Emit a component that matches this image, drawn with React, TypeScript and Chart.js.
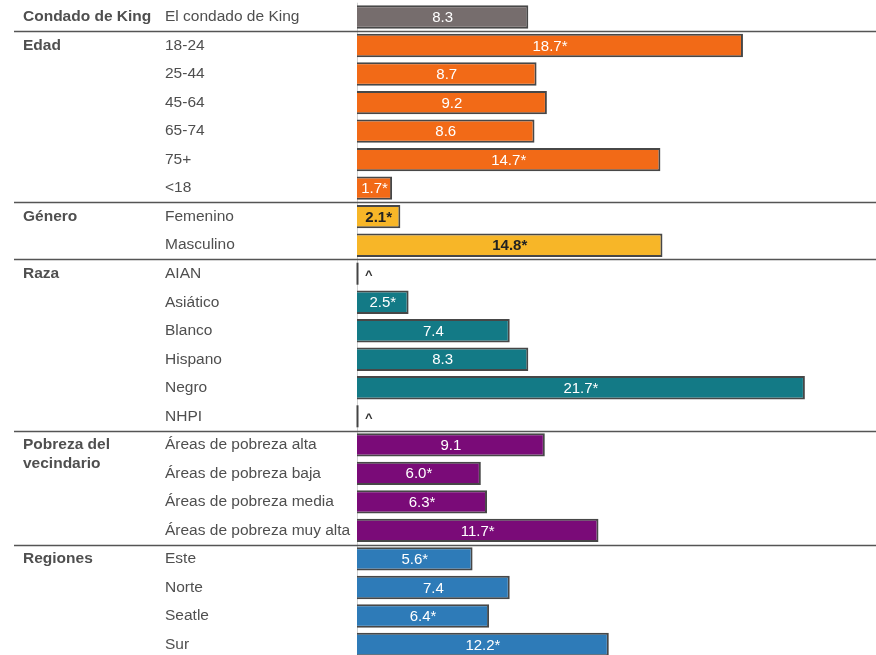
import React, { useEffect, useRef } from "react";
import { Chart, registerables } from "chart.js";

Chart.register(...registerables);

const groupNames = ["Condado de King", "Edad", "Género", "Raza", "Pobreza del\nvecindario", "Regiones"];
const groupColors = ["#766d6d", "#f26a17", "#f7b628", "#137a86", "#7a0b78", "#2e7bb8"];
const categories = [
  "El condado de King",
  "18-24", "25-44", "45-64", "65-74", "75+", "<18",
  "Femenino", "Masculino",
  "AIAN", "Asiático", "Blanco", "Hispano", "Negro", "NHPI",
  "Áreas de pobreza alta", "Áreas de pobreza baja", "Áreas de pobreza media", "Áreas de pobreza muy alta",
  "Este", "Norte", "Seatle", "Sur",
];
const groupOf = [0, 1, 1, 1, 1, 1, 1, 2, 2, 3, 3, 3, 3, 3, 3, 4, 4, 4, 4, 5, 5, 5, 5];
const values: (number | null)[] = [
  8.3,
  18.7, 8.7, 9.2, 8.6, 14.7, 1.7,
  2.1, 14.8,
  null, 2.5, 7.4, 8.3, 21.7, null,
  9.1, 6.0, 6.3, 11.7,
  5.6, 7.4, 6.4, 12.2,
];
const significant = [
  false,
  true, false, false, false, true, true,
  true, true,
  false, true, false, false, true, false,
  false, true, true, true,
  true, false, true, true,
];

const FONT = '"Liberation Sans", Arial, sans-serif';

const labelsPlugin = {
  id: "rowLabels",
  beforeDatasetsDraw(chart: any) {
    const { ctx, chartArea, scales } = chart;
    const x0 = scales.x.getPixelForValue(0);
    ctx.save();
    ctx.strokeStyle = "#d0d0d0";
    ctx.lineWidth = 1;
    ctx.beginPath();
    ctx.moveTo(Math.round(x0) + 0.5, chartArea.top);
    ctx.lineTo(Math.round(x0) + 0.5, chartArea.bottom);
    ctx.stroke();
    ctx.restore();
  },
  afterDatasetsDraw(chart: any) {
    const { ctx, chartArea, scales } = chart;
    const yS = scales.y;
    const x0 = scales.x.getPixelForValue(0);
    const meta = chart.getDatasetMeta(0);
    const band = (chartArea.bottom - chartArea.top) / categories.length;
    ctx.save();
    ctx.textBaseline = "middle";
    // separators
    ctx.strokeStyle = "#555";
    ctx.lineWidth = 1.5;
    for (let i = 1; i < categories.length; i++) {
      if (groupOf[i] !== groupOf[i - 1]) {
        const y = Math.round(yS.getPixelForValue(i) - band / 2) + 0.5;
        ctx.beginPath();
        ctx.moveTo(14, y);
        ctx.lineTo(chart.width, y);
        ctx.stroke();
      }
    }
    // left labels
    ctx.fillStyle = "#4f4f4f";
    ctx.textAlign = "left";
    for (let i = 0; i < categories.length; i++) {
      const y = yS.getPixelForValue(i);
      if (i === 0 || groupOf[i] !== groupOf[i - 1]) {
        ctx.font = `bold 15.5px ${FONT}`;
        const lines = groupNames[groupOf[i]].split("\n");
        lines.forEach((l, k) => ctx.fillText(l, 23, y + k * 19));
      }
      ctx.font = `15.5px ${FONT}`;
      ctx.fillText(categories[i], 165, y);
    }
    // value labels
    ctx.textAlign = "center";
    meta.data.forEach((el: any, i: number) => {
      const v = values[i];
      const y = yS.getPixelForValue(i);
      if (v === null) {
        ctx.strokeStyle = "#444";
        ctx.lineWidth = 2;
        ctx.beginPath();
        ctx.moveTo(x0 + 0.5, y - 11);
        ctx.lineTo(x0 + 0.5, y + 11);
        ctx.stroke();
        ctx.fillStyle = "#333";
        ctx.font = `bold 13px ${FONT}`;
        ctx.textAlign = "left";
        ctx.fillText("^", x0 + 8, y + 2);
        ctx.textAlign = "center";
        return;
      }
      const g = groupOf[i];
      const txt = v.toFixed(1) + (significant[i] ? "*" : "");
      if (g === 2) {
        ctx.fillStyle = "#222";
        ctx.font = `bold 15px ${FONT}`;
      } else {
        ctx.fillStyle = "#ffffff";
        ctx.font = `15px ${FONT}`;
      }
      const cx = (el.x + el.base) / 2;
      ctx.fillText(txt, cx, y + 1);
    });
    ctx.restore();
  },
};

export default function App() {
  const ref = useRef<HTMLCanvasElement>(null);
  useEffect(() => {
    document.body.style.margin = "0";
    const chart = new Chart(ref.current as HTMLCanvasElement, {
      type: "bar",
      data: {
        labels: categories,
        datasets: [
          {
            data: values as any,
            backgroundColor: groupOf.map((g) => groupColors[g]),
            borderColor: "#474747",
            borderWidth: 2,
            barPercentage: 0.82,
            categoryPercentage: 1,
          },
        ],
      },
      options: {
        indexAxis: "y",
        responsive: false,
        animation: false,
        layout: { padding: { left: 357, right: 3, top: 2.75, bottom: 3.25 } },
        plugins: { legend: { display: false }, tooltip: { enabled: false } },
        scales: {
          x: { display: false, min: 0, max: 25, grid: { display: false } },
          y: { display: false, grid: { display: false } },
        },
      },
      plugins: [labelsPlugin],
    });
    return () => chart.destroy();
  }, []);
  return <canvas ref={ref} width={876} height={662} style={{ display: "block" }} />;
}
